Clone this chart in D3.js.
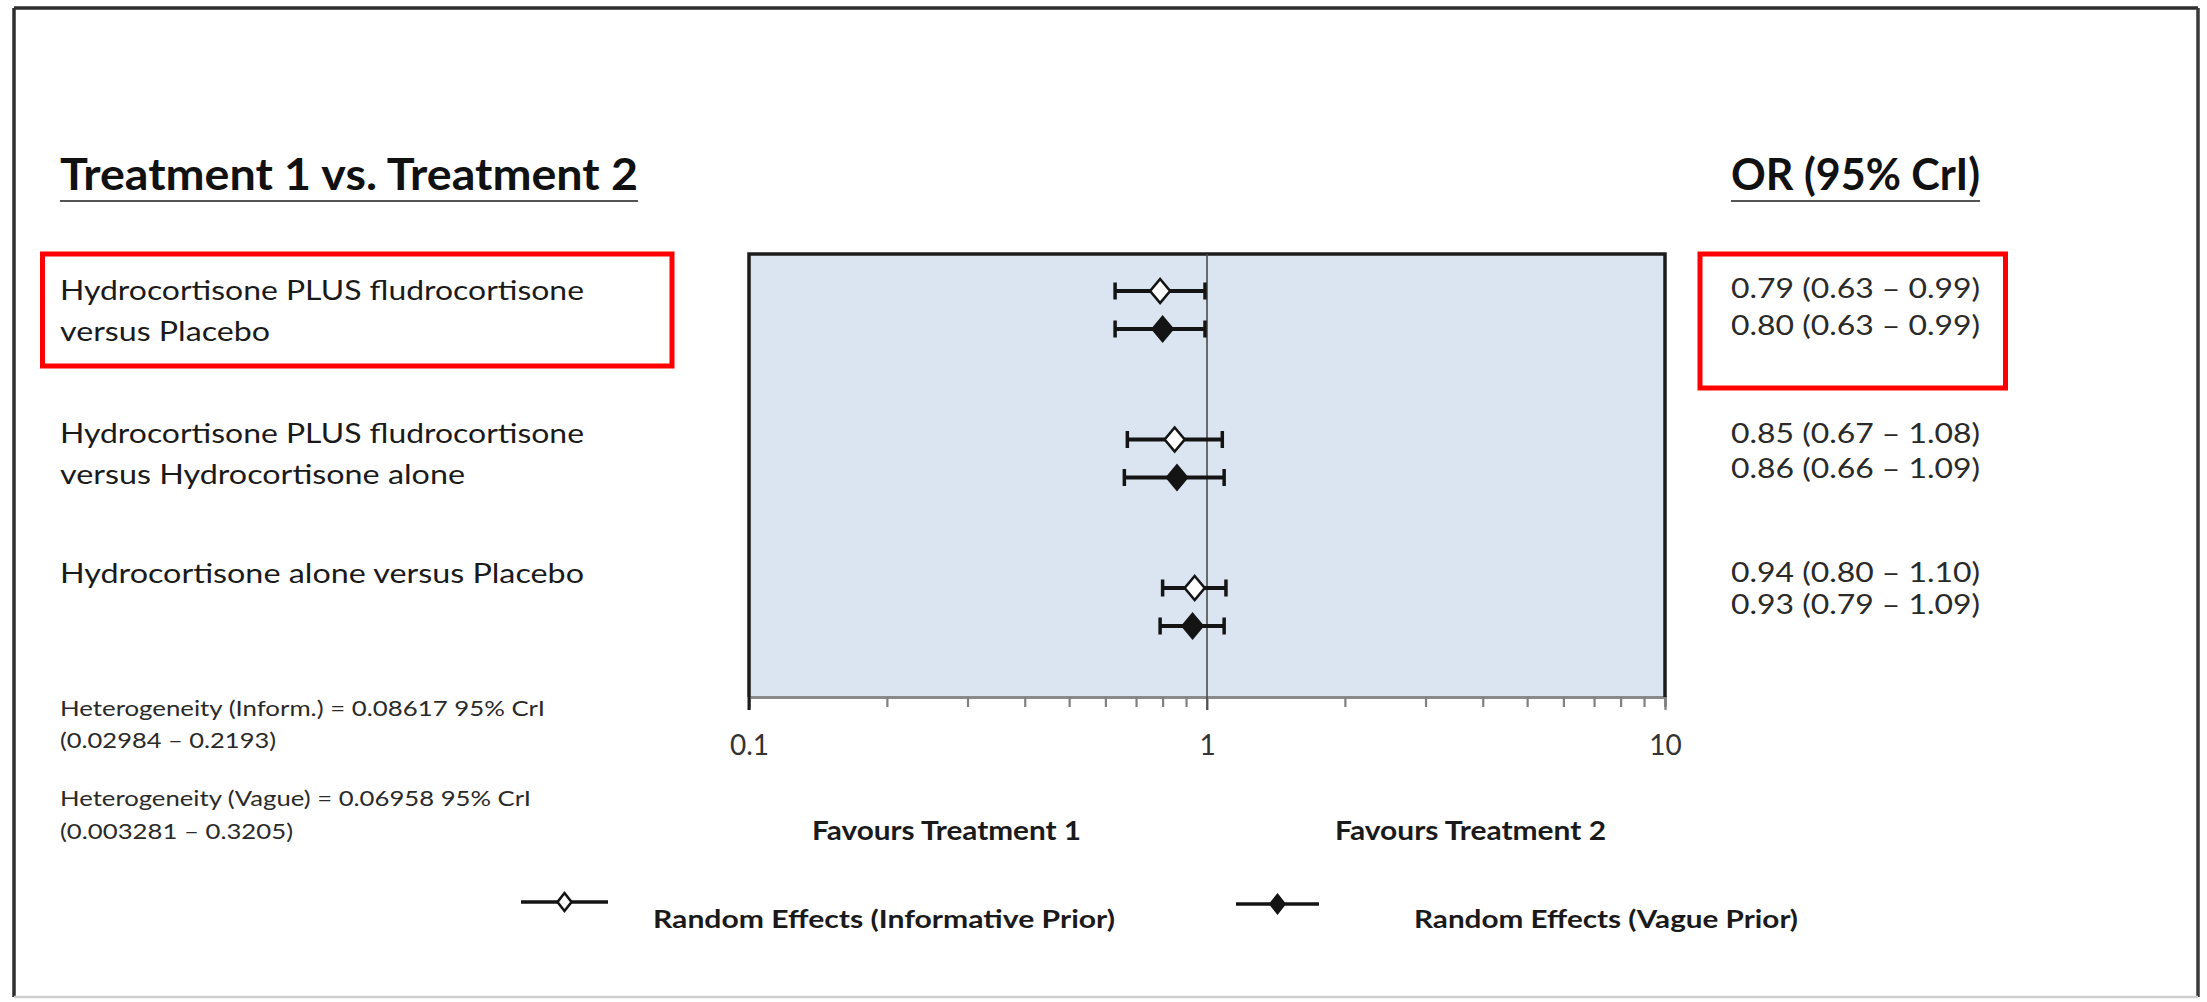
<!DOCTYPE html>
<html>
<head>
<meta charset="utf-8">
<script src="https://cdn.jsdelivr.net/npm/d3@7"></script>
<style>
  html, body { margin: 0; padding: 0; background: #ffffff; }
  svg { display: block; }
  text { font-family: "Lato", "Open Sans", "Liberation Sans", sans-serif; }
</style>
</head>
<body>
<svg id="chart" width="2207" height="1002"></svg>
<script>
// ---- data ----
const comparisons = ["HC+FC vs Placebo", "HC+FC vs HC", "HC vs Placebo"];
const comparisonLabels = [
  ["Hydrocortisone PLUS fludrocortisone", "versus Placebo"],
  ["Hydrocortisone PLUS fludrocortisone", "versus Hydrocortisone alone"],
  ["Hydrocortisone alone versus Placebo"]
];
const seriesNames = ["Random Effects  (Informative Prior)", "Random Effects (Vague Prior)"];
const informativeOR = [0.79, 0.85, 0.94];
const informativeLow = [0.63, 0.67, 0.80];
const informativeHigh = [0.99, 1.08, 1.10];
const vagueOR = [0.80, 0.86, 0.93];
const vagueLow = [0.63, 0.66, 0.79];
const vagueHigh = [0.99, 1.09, 1.09];
const tickLabels = [0.1, 1, 10];
const heterogeneityLines = [
  "Heterogeneity (Inform.) = 0.08617 95% CrI",
  "(0.02984 \u2013 0.2193)",
  "Heterogeneity (Vague) = 0.06958 95% CrI",
  "(0.003281 \u2013 0.3205)"
];
const favoursLabels = ["Favours Treatment 1", "Favours Treatment 2"];

// ---- layout ----
const svg = d3.select("#chart");
const plot = { left: 749, right: 1665, top: 254, bottom: 697 };
const ink = "#141414";

const x = d3.scaleLog().domain([0.1, 10]).range([plot.left, plot.right]);
const yGroup = d3.scalePoint().domain(comparisons).range([310, 607]);
const ySeries = d3.scalePoint().domain(["informative", "vague"]).range([-19, 19]);

const rows = [];
comparisons.forEach((c, i) => {
  rows.push({ comp: c, series: "informative", or: informativeOR[i], lo: informativeLow[i], hi: informativeHigh[i] });
  rows.push({ comp: c, series: "vague", or: vagueOR[i], lo: vagueLow[i], hi: vagueHigh[i] });
});
const rowY = d => yGroup(d.comp) + ySeries(d.series);

const diamond = (w, h) => `M0,${-h / 2}L${w / 2},0L0,${h / 2}L${-w / 2},0Z`;

// outer frame
svg.append("line").attr("x1", 14).attr("x2", 2198).attr("y1", 8).attr("y2", 8)
  .attr("stroke", "#2e2e2e").attr("stroke-width", 3.5);
svg.append("line").attr("x1", 14).attr("x2", 14).attr("y1", 8).attr("y2", 997)
  .attr("stroke", "#2e2e2e").attr("stroke-width", 3.5);
svg.append("line").attr("x1", 2198).attr("x2", 2198).attr("y1", 8).attr("y2", 997)
  .attr("stroke", "#3a3a3a").attr("stroke-width", 3.5);
svg.append("line").attr("x1", 14).attr("x2", 2198).attr("y1", 997).attr("y2", 997)
  .attr("stroke", "#cfcfcf").attr("stroke-width", 2.5);

// fitted text helper
function fitText(g, str, xPos, yPos, size, width, weight, fill) {
  const t = g.append("text")
    .attr("x", xPos).attr("y", yPos)
    .attr("font-size", size)
    .attr("font-weight", weight || 400)
    .attr("fill", fill || ink)
    .text(str);
  if (width) t.attr("textLength", width).attr("lengthAdjust", "spacingAndGlyphs");
  return t;
}

// headers with underlines
fitText(svg, "Treatment 1 vs. Treatment 2", 60, 190, 44, 578, 700, "#111");
svg.append("line").attr("x1", 60).attr("x2", 638).attr("y1", 201).attr("y2", 201)
  .attr("stroke", "#555").attr("stroke-width", 2);
fitText(svg, "OR (95% CrI)", 1731, 190, 43, 249, 700, "#111");
svg.append("line").attr("x1", 1731).attr("x2", 1980).attr("y1", 201).attr("y2", 201)
  .attr("stroke", "#555").attr("stroke-width", 2);

// comparison labels
const labelBaseline = [300, 443, 583];
const labelWidths = [[524, 210], [524, 405], [524]];
comparisonLabels.forEach((lines, i) => {
  lines.forEach((ln, j) => {
    fitText(svg, ln, 60, labelBaseline[i] + j * 41, 27, labelWidths[i][j], 400, "#1a1a1a");
  });
});

// plot panel
svg.append("rect")
  .attr("x", plot.left).attr("y", plot.top)
  .attr("width", plot.right - plot.left).attr("height", plot.bottom - plot.top)
  .attr("fill", "#dbe5f1");

// axis with log ticks
const allTicks = x.ticks();
const axis = d3.axisBottom(x)
  .tickValues(allTicks)
  .tickSize(10)
  .tickFormat(d => tickLabels.includes(d) ? d3.format("~g")(d) : "");
const gx = svg.append("g").attr("transform", `translate(0,${plot.bottom})`).call(axis);
gx.select(".domain").attr("stroke", "#8a8a8a").attr("stroke-width", 3);
gx.selectAll(".tick line")
  .attr("stroke", "#808080").attr("stroke-width", 2.2)
  .attr("y2", d => tickLabels.includes(d) ? 13 : 10);
gx.selectAll(".tick text")
  .attr("y", 58).attr("dy", 0)
  .attr("font-size", 28)
  .attr("font-family", "Lato, 'Open Sans', sans-serif")
  .attr("fill", "#333");

// panel borders (top, left, right dark)
svg.append("path")
  .attr("d", `M${plot.left},${plot.bottom}V${plot.top}H${plot.right}V${plot.bottom}`)
  .attr("fill", "none").attr("stroke", "#1c1c1c").attr("stroke-width", 3.5);
svg.append("line")
  .attr("x1", plot.left).attr("x2", plot.left).attr("y1", plot.bottom).attr("y2", plot.bottom + 13)
  .attr("stroke", "#1c1c1c").attr("stroke-width", 3);

// line of no effect
svg.append("line")
  .attr("x1", x(1)).attr("x2", x(1)).attr("y1", plot.top).attr("y2", plot.bottom + 13)
  .attr("stroke", "#4a4a4a").attr("stroke-width", 1.6);

// credible intervals
const marks = svg.append("g");
marks.selectAll(".ci").data(rows).join("line")
  .attr("x1", d => x(d.lo)).attr("x2", d => x(d.hi))
  .attr("y1", rowY).attr("y2", rowY)
  .attr("stroke", ink).attr("stroke-width", 4);
marks.selectAll(".capL").data(rows).join("line")
  .attr("x1", d => x(d.lo)).attr("x2", d => x(d.lo))
  .attr("y1", d => rowY(d) - 8.5).attr("y2", d => rowY(d) + 8.5)
  .attr("stroke", ink).attr("stroke-width", 3.5);
marks.selectAll(".capR").data(rows).join("line")
  .attr("x1", d => x(d.hi)).attr("x2", d => x(d.hi))
  .attr("y1", d => rowY(d) - 8.5).attr("y2", d => rowY(d) + 8.5)
  .attr("stroke", ink).attr("stroke-width", 3.5);
marks.selectAll(".pt").data(rows).join("path")
  .attr("d", diamond(20, 24))
  .attr("transform", d => `translate(${x(d.or)},${rowY(d)})`)
  .attr("fill", d => d.series === "informative" ? "#ffffff" : ink)
  .attr("stroke", ink).attr("stroke-width", 2.6);

// OR (95% CrI) column
const fmt = d3.format(".2f");
const orBaselines = [298, 335, 443, 478, 582, 614];
rows.forEach((d, i) => {
  fitText(svg, `${fmt(d.or)} (${fmt(d.lo)} \u2013 ${fmt(d.hi)})`, 1731, orBaselines[i], 26, 249, 400, "#2a2a2a");
});

// heterogeneity notes
const hetBaselines = [716, 748, 806, 839];
const hetWidths = [485, 216, 471, 233];
heterogeneityLines.forEach((s, i) => fitText(svg, s, 60, hetBaselines[i], 21, hetWidths[i], 400, "#2a2a2a"));

// favours labels
fitText(svg, favoursLabels[0], 812, 840, 27, 269, 700, "#1a1a1a");
fitText(svg, favoursLabels[1], 1335, 840, 27, 271, 700, "#1a1a1a");

// legend
const legend = [
  { name: seriesNames[0], x0: 521, x1: 608, y: 902, fill: "#ffffff", tx: 653, tw: 462 },
  { name: seriesNames[1], x0: 1236, x1: 1319, y: 904, fill: ink, tx: 1414, tw: 384 }
];
legend.forEach(l => {
  svg.append("line").attr("x1", l.x0).attr("x2", l.x1).attr("y1", l.y).attr("y2", l.y)
    .attr("stroke", ink).attr("stroke-width", 3.5);
  svg.append("path").attr("d", diamond(14, 18))
    .attr("transform", `translate(${(l.x0 + l.x1) / 2},${l.y})`)
    .attr("fill", l.fill).attr("stroke", ink).attr("stroke-width", 2.6);
  fitText(svg, l.name, l.tx, 928, 25, l.tw, 700, "#1a1a1a");
});

// highlight boxes
svg.append("rect").attr("x", 42.5).attr("y", 254).attr("width", 672 - 42.5).attr("height", 366 - 254)
  .attr("fill", "none").attr("stroke", "#ff0000").attr("stroke-width", 5);
svg.append("rect").attr("x", 1700).attr("y", 254).attr("width", 2005.5 - 1700).attr("height", 388 - 254)
  .attr("fill", "none").attr("stroke", "#ff0000").attr("stroke-width", 5);
</script>
</body>
</html>
